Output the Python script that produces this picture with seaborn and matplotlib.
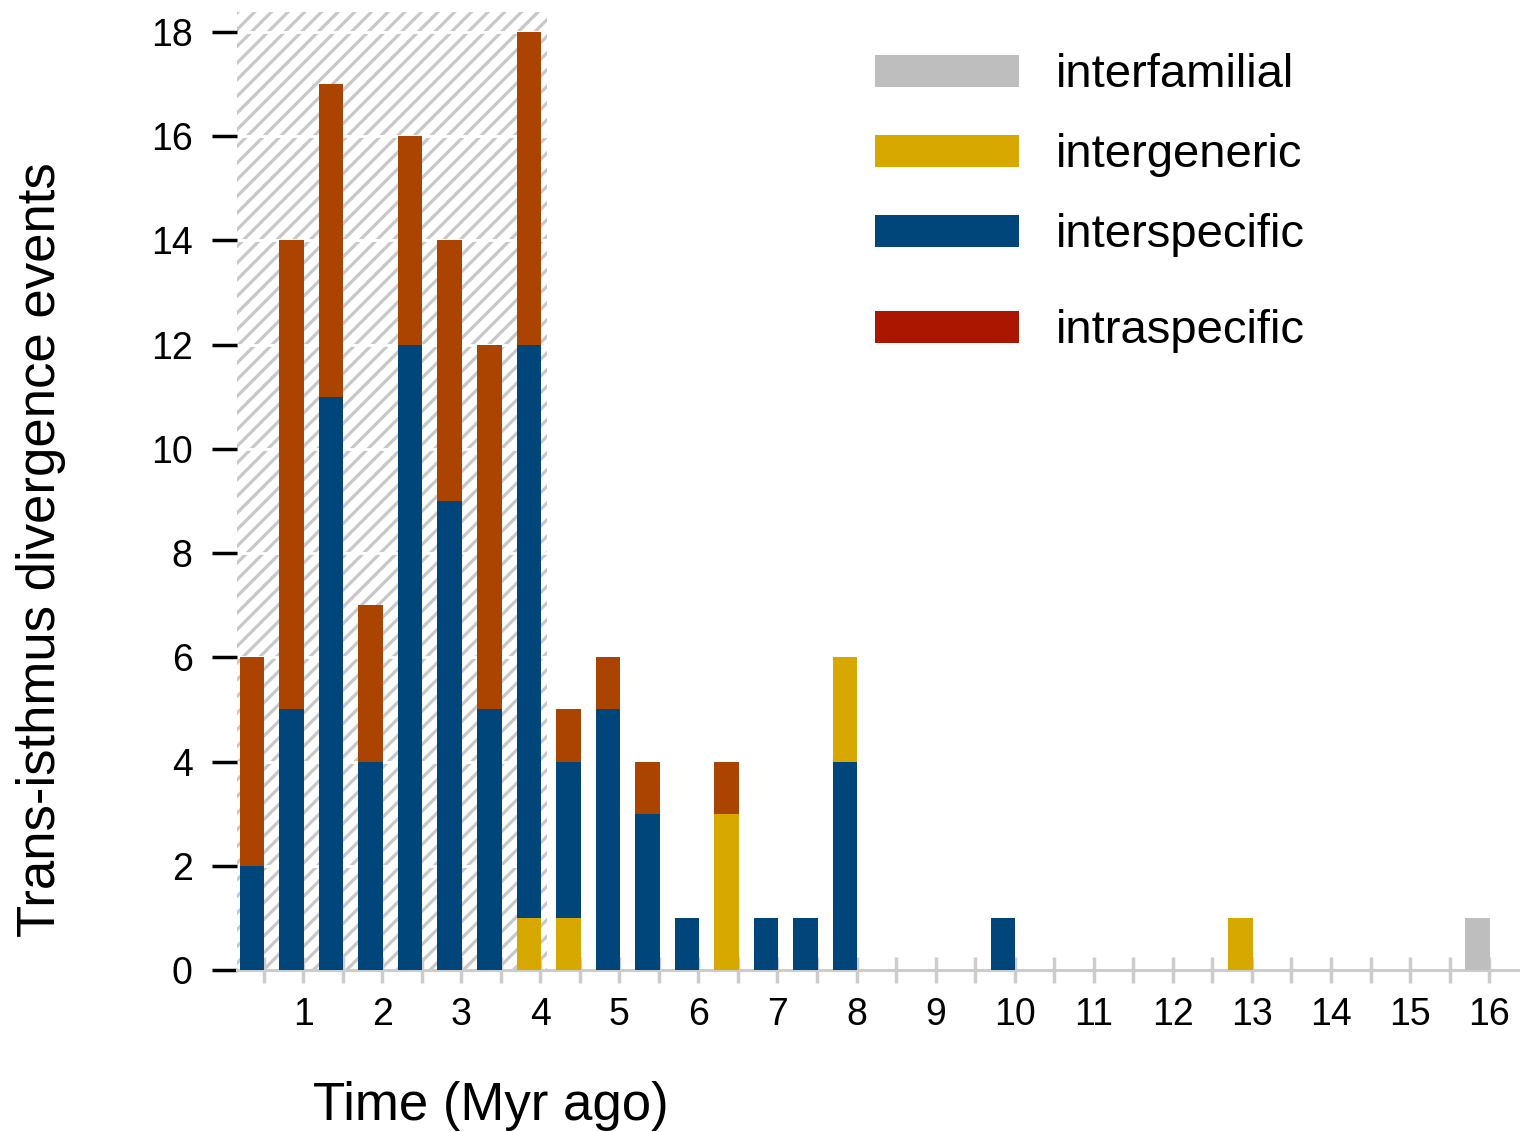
import numpy as np
import pandas as pd
import matplotlib
matplotlib.use("Agg")
import matplotlib.pyplot as plt
import seaborn as sns
from matplotlib.patches import Rectangle

# ---------------- data ----------------
bin_end = [0.5, 1.0, 1.5, 2.0, 2.5, 3.0, 3.5, 4.0, 4.5, 5.0, 5.5, 6.0, 6.5, 7.0, 7.5, 8.0,
           8.5, 9.0, 9.5, 10.0, 10.5, 11.0, 11.5, 12.0, 12.5, 13.0, 13.5, 14.0, 14.5, 15.0, 15.5, 16.0]

interfamilial = [0, 0, 0, 0, 0, 0, 0, 0, 0, 0, 0, 0, 0, 0, 0, 0,
                 0, 0, 0, 0, 0, 0, 0, 0, 0, 0, 0, 0, 0, 0, 0, 1]
intergeneric = [0, 0, 0, 0, 0, 0, 0, 1, 1, 0, 0, 0, 3, 0, 0, 2,
                0, 0, 0, 0, 0, 0, 0, 0, 0, 1, 0, 0, 0, 0, 0, 0]
interspecific = [2, 5, 11, 4, 12, 9, 5, 11, 3, 5, 3, 1, 0, 1, 1, 4,
                 0, 0, 0, 1, 0, 0, 0, 0, 0, 0, 0, 0, 0, 0, 0, 0]
intraspecific = [4, 9, 6, 3, 4, 5, 7, 6, 1, 1, 1, 0, 1, 0, 0, 0,
                 0, 0, 0, 0, 0, 0, 0, 0, 0, 0, 0, 0, 0, 0, 0, 0]
# bins where the intergeneric segment sits above the interspecific one
intergeneric_on_top_bins = [8.0]

categories = ["interfamilial", "intergeneric", "interspecific", "intraspecific"]
x_ticks = [1, 2, 3, 4, 5, 6, 7, 8, 9, 10, 11, 12, 13, 14, 15, 16]
y_ticks = [0, 2, 4, 6, 8, 10, 12, 14, 16, 18]
shaded_range = (0.0, 4.085)

# ---------------- style ----------------
bar_colors = {"interfamilial": "#BEBEBE", "intergeneric": "#D7A800",
              "interspecific": "#01467A", "intraspecific": "#AA4400"}
legend_colors = {"interfamilial": "#BEBEBE", "intergeneric": "#D7A800",
                 "interspecific": "#01467A", "intraspecific": "#AA1600"}

sns.set_theme(style="white")
plt.rcParams["font.family"] = ["Liberation Sans", "DejaVu Sans"]
plt.rcParams["text.color"] = "black"
plt.rcParams["xtick.labelcolor"] = "black"
plt.rcParams["ytick.labelcolor"] = "black"
plt.rcParams["hatch.linewidth"] = 2.3
plt.rcParams["hatch.color"] = "#C8C8C8"

W, H = 1520, 1132
fig = plt.figure(figsize=(W / 100, H / 100), dpi=100)
ax_l, ax_r, ax_t, ax_b = 237, 1520, 12, 970
ax = fig.add_axes([ax_l / W, 1 - ax_b / H, (ax_r - ax_l) / W, (ax_b - ax_t) / H])

values = {"interfamilial": interfamilial, "intergeneric": intergeneric,
          "interspecific": interspecific, "intraspecific": intraspecific}

n = len(bin_end)
bottoms = {c: np.zeros(n) for c in categories}
for i, t in enumerate(bin_end):
    if t in intergeneric_on_top_bins:
        order = ["interfamilial", "interspecific", "intergeneric", "intraspecific"]
    else:
        order = categories
    acc = 0.0
    for c in order:
        bottoms[c][i] = acc
        acc += values[c][i]

bar_w = 0.31
x_center = np.array(bin_end) + 0.01 - bar_w / 2
for c in categories:
    df = pd.DataFrame({"x": x_center, "count": np.array(values[c], dtype=float)})
    sns.barplot(data=df, x="x", y="count", native_scale=True, width=bar_w / 0.5,
                color=bar_colors[c], saturation=1, errorbar=None, bottom=bottoms[c],
                linewidth=0, zorder=2, ax=ax)

x_left = 0.1644
x_right = x_left + (ax_r - ax_l) / 79.07
y_top = (ax_b - ax_t) / 52.11

ax.axvspan(x_left, shaded_range[1], facecolor="white", edgecolor="#C8C8C8",
           hatch="//", linewidth=0, zorder=0)

ax.set_xlim(x_left, x_right)
ax.set_ylim(0, y_top)
ax.set_xlabel("")
ax.set_ylabel("")

ax.set_xticks(x_ticks)
ax.set_xticklabels([str(v) for v in x_ticks])
ax.set_xticks(np.arange(0.5, 16, 1.0), minor=True)
ax.set_yticks(y_ticks)
ax.set_yticklabels([str(v) for v in y_ticks])

ax.tick_params(axis="x", which="both", direction="inout", length=19, width=2.5,
               color="#CCCCCC", labelsize=27, pad=10, bottom=True, labelcolor="black")
ax.tick_params(axis="y", which="major", direction="out", length=18, width=2.5,
               color="black", labelsize=27, pad=14, left=True, labelcolor="black")

ax.set_axisbelow(True)
ax.yaxis.grid(True, color="white", linewidth=2.0)
ax.xaxis.grid(False)

for s in ["left", "top", "right"]:
    ax.spines[s].set_visible(False)
ax.spines["bottom"].set_color("#CCCCCC")
ax.spines["bottom"].set_linewidth(2.2)
ax.spines["bottom"].set_zorder(0.6)

# axis titles
fig.text(313 / W, 1 - 1120 / H, "Time (Myr ago)", ha="left", va="baseline",
         fontsize=38, color="black")
fig.text(41 / W, 1 - 550 / H, "Trans-isthmus divergence events", ha="center",
         va="center", rotation=90, fontsize=38, color="black")

# legend
leg_rows = {"interfamilial": (55, 87), "intergeneric": (135, 167),
            "interspecific": (215, 247), "intraspecific": (311, 343)}
for c in categories:
    top, bot = leg_rows[c]
    fig.add_artist(Rectangle((875 / W, 1 - bot / H), 144 / W, (bot - top) / H,
                             transform=fig.transFigure, facecolor=legend_colors[c],
                             edgecolor="none"))
    fig.text(1056 / W, 1 - bot / H, c, ha="left", va="baseline", fontsize=34,
             color="black")

fig.savefig("out.png", dpi=100)
